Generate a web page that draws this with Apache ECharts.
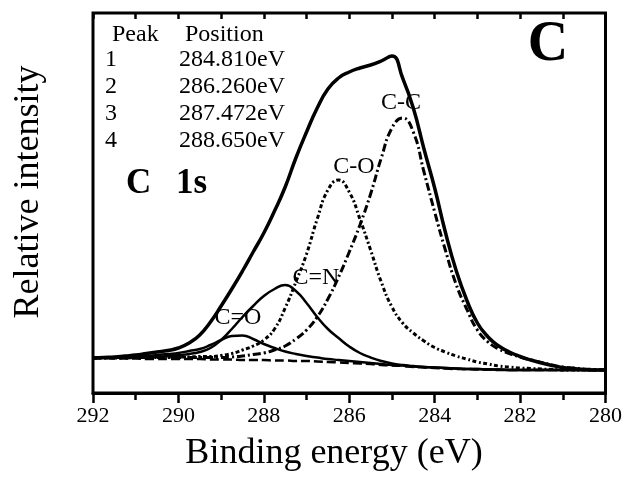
<!DOCTYPE html>
<html>
<head>
<meta charset="utf-8">
<script src="https://cdn.jsdelivr.net/npm/echarts@6/dist/echarts.min.js"></script>
<style>
  html, body { margin: 0; padding: 0; background: #fff; }
  #chart { width: 625px; height: 480px; }
</style>
</head>
<body>
<div id="chart"></div>
<script>
// binding energy (eV), every 0.25 eV from 292 down to 280
const energy = [292, 291.75, 291.5, 291.25, 291, 290.75, 290.5, 290.25, 290, 289.75,
  289.5, 289.25, 289, 288.75, 288.5, 288.25, 288, 287.75, 287.5, 287.25,
  287, 286.75, 286.5, 286.25, 286, 285.75, 285.5, 285.25, 285, 284.75,
  284.5, 284.25, 284, 283.75, 283.5, 283.25, 283, 282.75, 282.5, 282.25,
  282, 281.75, 281.5, 281.25, 281, 280.75, 280.5, 280.25, 280]

// measured envelope
const envelope = [38, 38.5, 39, 40, 41, 42.5, 44, 45.5, 48, 53,
  61, 74, 90, 107, 125, 144, 163, 185, 209, 238,
  264, 288, 307, 318, 324, 328, 331, 335, 340, 318,
  288, 247, 208, 164, 126, 96, 73, 59, 50, 44,
  39.5, 36, 33, 30.5, 28.5, 27.5, 26.5, 26, 26]

// peak 1 C-C 284.810eV
const peakCC = [38, 38, 38, 38, 38.5, 38.5, 38.5, 38.5, 38.5, 38.5,
  38.5, 38.5, 38.5, 39, 40, 41.5, 43, 46, 50, 57,
  66, 79, 97, 119, 144, 171, 202, 238, 268, 278,
  264, 224, 184, 146, 112, 87, 66, 54, 47, 42.5,
  39, 36, 33.5, 31, 29, 28, 27, 26.5, 26]

// peak 2 C-O 286.260eV
const peakCO = [38, 38, 38.5, 38.5, 38.5, 38.5, 38.5, 39, 39, 39,
  39.5, 39.5, 40.5, 42.5, 46, 50, 56, 67, 88, 114,
  142, 177, 206, 216, 204, 177, 146, 114, 89, 73,
  63, 55, 48.5, 44, 40, 37, 34, 32, 30, 29,
  28, 27.5, 27, 26.5, 26, 26, 26, 26, 26]

// peak 3 C=N 287.472eV
const peakCN = [38, 38, 38.5, 38.5, 38.5, 39, 39, 40, 41, 42,
  44, 48, 56, 67, 79, 90, 100, 107, 111, 105,
  93, 79, 67, 58, 49.5, 43, 38.5, 35, 32.5, 31,
  30, 29, 28.5, 28, 27.5, 27, 27, 26.5, 26.5, 26,
  26, 26, 26, 26, 26, 26, 26, 26, 26]

// peak 4 C=O 288.650eV
const peakCdO = [38, 38.5, 38.5, 39, 39.5, 40, 41, 42, 43, 45,
  47, 51, 56, 60, 60.5, 57, 52, 48, 44.5, 42,
  40, 38.5, 37, 36, 35, 34, 33, 32, 31, 30.5,
  29.5, 29, 28.5, 28, 27.5, 27, 27, 26.5, 26.5, 26,
  26, 26, 26, 26, 26, 26, 26, 26, 26]

// background
const background = [38, 38, 37.5, 37.5, 37.5, 37, 37, 37, 37, 37,
  37, 36.5, 36.5, 36.5, 36, 36, 36, 35.5, 35.5, 35,
  35, 34.5, 34, 33.5, 33, 32.5, 32, 31, 30.5, 30,
  29, 28.5, 28, 27.5, 27, 27, 26.5, 26.5, 26, 26,
  26, 26, 26, 26, 26, 26, 26, 26, 26]

const peakNames = ['Peak', '1', '2', '3', '4']
const peakPositions = ['Position', '284.810eV', '286.260eV', '287.472eV', '288.650eV']

const serif = '"Liberation Serif", "Times New Roman", serif'

function pairs(vals) {
  return energy.map((e, i) => [e, vals[i]])
}

function line(name, vals, width, type) {
  return {
    name: name,
    type: 'line',
    data: pairs(vals),
    smooth: 0.5,
    symbol: 'none',
    silent: true,
    lineStyle: { color: '#000', width: width, type: type }
  }
}

function txt(text, x, y, size, align, bold, rot) {
  return {
    type: 'text',
    x: x,
    y: y,
    rotation: rot || 0,
    style: {
      text: text,
      font: (bold ? 'bold ' : '') + size + 'px ' + serif,
      fill: '#000',
      textAlign: align,
      align: align,
      textVerticalAlign: 'middle',
      verticalAlign: 'middle'
    }
  }
}

const rowY = [35, 60, 87, 114, 141]
const texts = []
peakNames.forEach((n, i) => {
  texts.push(txt(n, i === 0 ? 112 : 105, rowY[i], 24, 'left'))
  texts.push(txt(peakPositions[i], i === 0 ? 185 : 179, rowY[i], 24, 'left'))
})
texts.push(txt('C', 126, 184, 35, 'left', true))
texts.push(txt('1s', 176, 184, 35, 'left', true))
texts.push(txt('C', 548, 46, 56, 'center', true))
texts.push(txt('C-C', 401, 103, 24, 'center'))
texts.push(txt('C-O', 354, 167, 24, 'center'))
texts.push(txt('C=N', 316, 278, 24, 'center'))
texts.push(txt('C=O', 238, 318, 24, 'center'))
texts.push(txt('Binding energy (eV)', 334, 454, 36, 'center'))
texts.push(txt('Relative intensity', 29, 192, 36, 'center', false, Math.PI / 2))

const myChart = echarts.init(document.getElementById('chart'))
myChart.setOption({
  backgroundColor: '#fff',
  animation: false,
  grid: {
    left: 93,
    right: 19,
    top: 13,
    bottom: 87,
    show: true,
    borderColor: '#000',
    borderWidth: 3,
    containLabel: false
  },
  xAxis: [
    {
      type: 'value',
      min: 280,
      max: 292,
      interval: 2,
      inverse: true,
      position: 'bottom',
      axisLine: { show: true, lineStyle: { color: '#000', width: 3 } },
      axisTick: { show: true, inside: false, length: 10, lineStyle: { color: '#000', width: 2.5 } },
      minorTick: { show: true, splitNumber: 2, length: 7, lineStyle: { color: '#000', width: 2.5 } },
      axisLabel: { color: '#000', fontSize: 22, fontFamily: serif, margin: 12 },
      splitLine: { show: false },
      minorSplitLine: { show: false }
    },
    {
      type: 'value',
      min: 280,
      max: 292,
      interval: 1,
      inverse: true,
      position: 'top',
      axisLine: { show: false },
      axisTick: { show: true, inside: true, length: 6, lineStyle: { color: '#000', width: 2.5 } },
      axisLabel: { show: false },
      splitLine: { show: false }
    }
  ],
  yAxis: {
    type: 'value',
    min: 3,
    max: 383,
    axisLine: { show: false },
    axisTick: { show: false },
    axisLabel: { show: false },
    splitLine: { show: false }
  },
  series: [
    line('Background', background, 2.5, [9, 4]),
    line('C=O', peakCdO, 2.5, 'solid'),
    line('C=N', peakCN, 2.5, 'solid'),
    line('C-O', peakCO, 3, [4, 2.5, 2, 2.5]),
    line('C-C', peakCC, 3, [8, 3, 2, 3]),
    line('Envelope', envelope, 3.5, 'solid')
  ],
  graphic: texts
})
</script>
</body>
</html>
